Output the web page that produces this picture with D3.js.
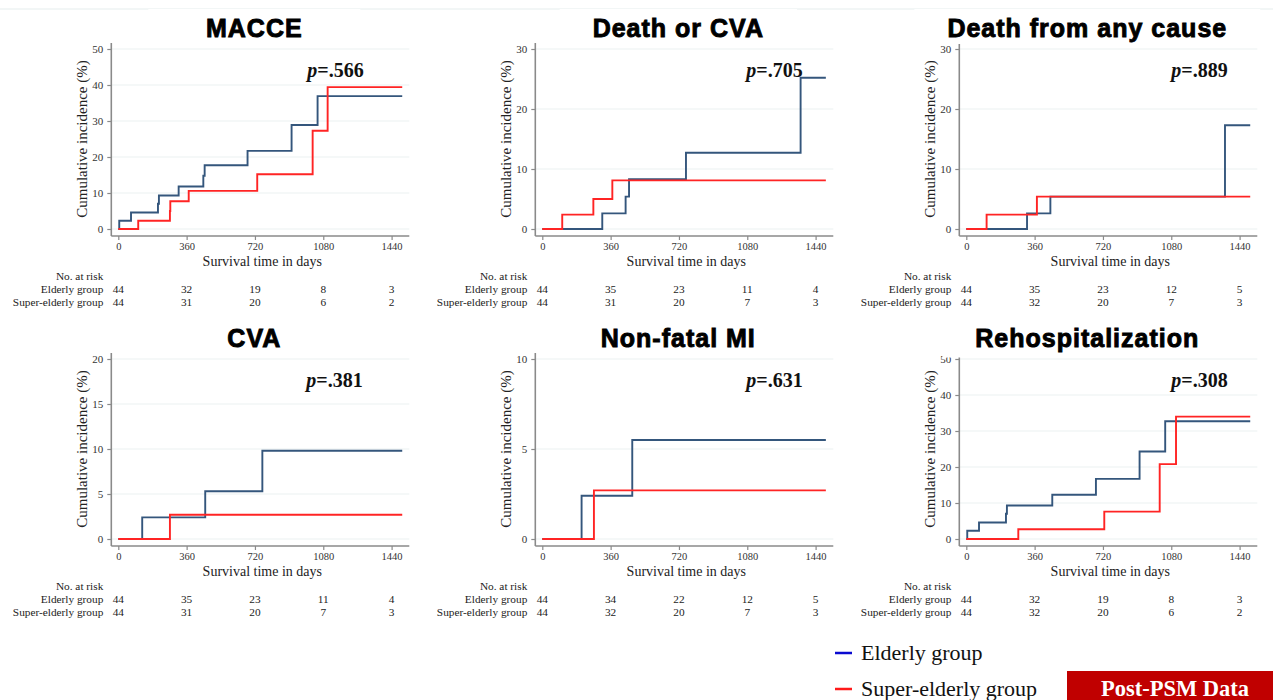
<!DOCTYPE html>
<html>
<head>
    <title>Post-PSM cumulative incidence</title>
    <meta charset="utf-8">
    <style>
        body { margin: 0; background: #fff; }
        svg { display: block; }
        .serif { font-family: "Liberation Serif", "Times New Roman", serif; }
        .title { font-family: "Liberation Sans", Arial, sans-serif; font-weight: bold; fill: #000; stroke: #000; stroke-width: 0.9px; }
        .grid { stroke: #ecf2f2; stroke-width: 1.2px; }
        .axisline { stroke: #8a8a8a; stroke-width: 1.6px; }
        .tick line { stroke: #8a8a8a; stroke-width: 1.2px; }
    </style>
    <script src="https://cdn.jsdelivr.net/npm/d3@7"></script>
</head>
<body>
    <svg width="1273" height="700"></svg>

    <script>
        // ---- data ----
        var titles = ["MACCE", "Death or CVA", "Death from any cause", "CVA", "Non-fatal MI", "Rehospitalization"];
        var pValues = [".566", ".705", ".889", ".381", ".631", ".308"];
        var yTicks = [
            [0, 10, 20, 30, 40, 50],
            [0, 10, 20, 30],
            [0, 10, 20, 30],
            [0, 5, 10, 15, 20],
            [0, 5, 10],
            [0, 10, 20, 30, 40, 50]
        ];
        var xTicks = [0, 360, 720, 1080, 1440];

        // [day, cumulative incidence %]
        var elderlyMacce = [[0, 0], [5, 2.3], [67, 4.6], [209, 7.0], [214, 9.3], [318, 11.8], [448, 14.8], [455, 17.7], [681, 21.7], [913, 28.9], [1050, 36.9], [1496, 36.9]];
        var superMacce = [[0, 0], [105, 2.3], [272, 5.0], [274, 7.7], [371, 10.6], [732, 15.2], [1024, 27.3], [1103, 39.4], [1496, 39.4]];
        var elderlyDeathCva = [[0, 0], [316, 2.6], [439, 5.4], [457, 8.3], [757, 12.7], [1361, 25.2], [1494, 25.2]];
        var superDeathCva = [[0, 0], [105, 2.4], [269, 5.0], [369, 8.1], [1494, 8.1]];
        var elderlyDeath = [[0, 0], [320, 2.6], [443, 5.4], [1363, 17.3], [1496, 17.3]];
        var superDeath = [[0, 0], [107, 2.4], [372, 5.4], [1496, 5.4]];
        var elderlyCva = [[0, 0], [126, 2.4], [458, 5.3], [759, 9.8], [1496, 9.8]];
        var superCva = [[0, 0], [272, 2.7], [1496, 2.7]];
        var elderlyMi = [[0, 0], [207, 2.4], [474, 5.5], [1494, 5.5]];
        var superMi = [[0, 0], [272, 2.7], [1494, 2.7]];
        var elderlyRehosp = [[0, 0], [5, 2.3], [67, 4.6], [209, 7.0], [214, 9.3], [453, 12.3], [683, 16.7], [913, 24.3], [1048, 32.7], [1496, 32.7]];
        var superRehosp = [[0, 0], [274, 2.7], [727, 7.6], [1019, 20.8], [1105, 34.0], [1496, 34.0]];

        var elderlySeries = [elderlyMacce, elderlyDeathCva, elderlyDeath, elderlyCva, elderlyMi, elderlyRehosp];
        var superSeries = [superMacce, superDeathCva, superDeath, superCva, superMi, superRehosp];

        var riskElderly = [[44, 32, 19, 8, 3], [44, 35, 23, 11, 4], [44, 35, 23, 12, 5], [44, 35, 23, 11, 4], [44, 34, 22, 12, 5], [44, 32, 19, 8, 3]];
        var riskSuper = [[44, 31, 20, 6, 2], [44, 31, 20, 7, 3], [44, 32, 20, 7, 3], [44, 31, 20, 7, 3], [44, 32, 20, 7, 3], [44, 32, 20, 6, 2]];
        var riskLabels = ["No. at risk", "Elderly group", "Super-elderly group"];
        var groupNames = ["Elderly group", "Super-elderly group"];

        // ---- layout ----
        var elderlyColor = "#34567c", superColor = "#ff2424";
        var pOffset = [189, 204, 205, 188, 204, 205];
        var titleOffset = [136, 136, 121];
        var titleBoxH = [35, 38.5];
        var plotW = 273.3, plotH = 180;

        var svg = d3.select("svg");

        // faint line across the top of the slide
        svg.append("line").attr("x1", 0).attr("x2", 1273).attr("y1", 9).attr("y2", 9)
            .attr("stroke", "#e6eded").attr("stroke-width", 1.2);

        var line = d3.line().curve(d3.curveStepAfter);

        titles.forEach(function (title, i) {
            var col = i % 3, row = Math.floor(i / 3);
            var x0 = 118.3 + col * 424;
            var zeroY = 229 + row * 310;
            var ticks = yTicks[i];
            var yMax = ticks[ticks.length - 1];

            var x = d3.scaleLinear().domain([0, 1440]).range([x0, x0 + plotW]);
            var y = d3.scaleLinear().domain([0, yMax]).range([zeroY, zeroY - plotH]);
            var axisX = x0 - 7, axisY = zeroY + 7, rightX = x0 + 291;

            var g = svg.append("g");

            // gridlines
            g.selectAll("line.grid").data(ticks).enter().append("line")
                .attr("class", "grid")
                .attr("x1", axisX).attr("x2", rightX)
                .attr("y1", function (d) { return y(d); })
                .attr("y2", function (d) { return y(d); });

            // curves
            [[elderlySeries[i], elderlyColor], [superSeries[i], superColor]].forEach(function (s) {
                g.append("path")
                    .attr("d", line(s[0].map(function (p) { return [x(p[0]), y(p[1])]; })))
                    .attr("fill", "none")
                    .attr("stroke", s[1])
                    .attr("stroke-width", 1.9);
            });

            // y axis
            var ya = g.append("g").attr("class", "serif")
                .attr("transform", "translate(" + axisX + ",0)")
                .call(d3.axisLeft(y).tickValues(ticks).tickSize(4).tickPadding(4).tickFormat(d3.format("d")));
            ya.select(".domain").remove();
            ya.selectAll("text").attr("font-size", 11).attr("fill", "#333");
            g.append("line").attr("class", "axisline")
                .attr("x1", axisX).attr("x2", axisX)
                .attr("y1", zeroY - plotH - 6).attr("y2", axisY);

            // x axis
            var xa = g.append("g").attr("class", "serif")
                .attr("transform", "translate(0," + axisY + ")")
                .call(d3.axisBottom(x).tickValues(xTicks).tickSize(4).tickPadding(3).tickFormat(d3.format("d")));
            xa.select(".domain").remove();
            xa.selectAll("text").attr("font-size", 10.5).attr("fill", "#333");
            g.append("line").attr("class", "axisline")
                .attr("x1", axisX).attr("x2", rightX)
                .attr("y1", axisY).attr("y2", axisY);

            // axis titles
            g.append("text").attr("class", "serif")
                .attr("x", x0 + 144).attr("y", zeroY + 36.5)
                .attr("text-anchor", "middle").attr("font-size", 14).attr("fill", "#222")
                .text("Survival time in days");
            g.append("text").attr("class", "serif")
                .attr("transform", "translate(" + (x0 - 31) + "," + (zeroY - 90) + ") rotate(-90)")
                .attr("text-anchor", "middle").attr("font-size", 15).attr("fill", "#222")
                .text("Cumulative incidence (%)");

            // p value
            var pt = g.append("text").attr("class", "serif")
                .attr("x", x0 + pOffset[i]).attr("y", zeroY - 152)
                .attr("font-size", 20).attr("font-weight", "bold").attr("fill", "#111");
            pt.append("tspan").attr("font-style", "italic").text("p");
            pt.append("tspan").text("=" + pValues[i]);

            // risk table
            riskLabels.forEach(function (lab, k) {
                g.append("text").attr("class", "serif")
                    .attr("x", x0 - 15).attr("y", zeroY + 51 + k * 13)
                    .attr("text-anchor", "end").attr("font-size", 11.3).attr("fill", "#222")
                    .text(lab);
            });
            [riskElderly[i], riskSuper[i]].forEach(function (vals, k) {
                g.selectAll(null).data(vals).enter().append("text")
                    .attr("class", "serif")
                    .attr("x", function (d, j) { return x(xTicks[j]); })
                    .attr("y", zeroY + 64 + k * 13)
                    .attr("text-anchor", "middle").attr("font-size", 11.3).attr("fill", "#222")
                    .text(function (d) { return d; });
            });

            // title with its white box
            var cx = x0 + titleOffset[col];
            var box = g.append("rect").attr("fill", "#fff");
            var tt = g.append("text").attr("class", "title")
                .attr("x", cx).attr("y", zeroY - 192)
                .attr("text-anchor", "middle").attr("font-size", 25).attr("letter-spacing", 1)
                .text(title);
            var w = Math.max(212, tt.node().getComputedTextLength() + 66);
            box.attr("x", cx - w / 2).attr("width", w)
                .attr("y", zeroY - 220).attr("height", titleBoxH[row]);
        });

        // legend
        var legend = svg.append("g");
        groupNames.forEach(function (name, k) {
            var ly = 653 + k * 36;
            legend.append("line")
                .attr("x1", 835).attr("x2", 852).attr("y1", ly).attr("y2", ly)
                .attr("stroke", k === 0 ? "#0a0ad0" : "#ff1a1a").attr("stroke-width", 2.5);
            legend.append("text").attr("class", "serif")
                .attr("x", 861).attr("y", ly + 7)
                .attr("font-size", 22).attr("fill", "#111")
                .text(name);
        });

        // Post-PSM badge
        svg.append("rect").attr("x", 1067).attr("y", 671).attr("width", 206).attr("height", 40).attr("fill", "#c00000");
        svg.append("text").attr("class", "serif")
            .attr("x", 1175).attr("y", 696)
            .attr("text-anchor", "middle").attr("font-size", 22.5).attr("font-weight", "bold").attr("fill", "#fff")
            .text("Post-PSM Data");
    </script>
</body>
</html>
